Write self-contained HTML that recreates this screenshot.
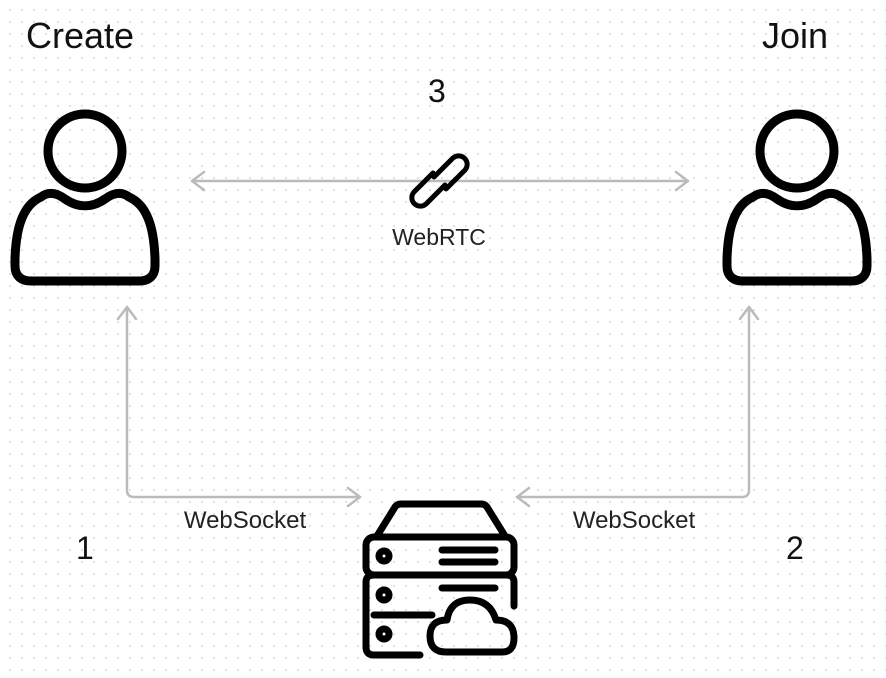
<!DOCTYPE html>
<html><head><style>
html,body{margin:0;padding:0;background:#fff;}
body{width:886px;height:673px;overflow:hidden;
background-image:radial-gradient(circle,#d8d8d8 0.8px,transparent 1.1px);background-size:12px 12px;background-position:4px 4px;}
text{font-family:"Liberation Sans",sans-serif;}
</style></head><body>
<svg width="886" height="673" viewBox="0 0 886 673" xmlns="http://www.w3.org/2000/svg">
<defs>
<g id="person" fill="none" stroke="#000" stroke-width="9" stroke-linejoin="round">
<circle cx="0" cy="0" r="37"/>
<path d="M-44 46 C-36 40 -28 42 -20 48 C-7 57 7 57 20 48 C28 42 36 40 44 46 C62 54 69 76 70 108 L70 115 C70 125 64 130 54 130 L-54 130 C-64 130 -70 125 -70 115 L-70 108 C-69 76 -62 54 -44 46 Z"/>
</g>
</defs>
<use href="#person" x="85" y="151"/>
<use href="#person" x="797" y="151"/>
<text x="26" y="48" font-size="36" fill="#111">Create</text>
<text x="762" y="48" font-size="36" fill="#111">Join</text>
<text x="428" y="102" font-size="32" fill="#111">3</text>
<text x="76" y="559" font-size="32" fill="#111">1</text>
<text x="786" y="559" font-size="32" fill="#111">2</text>
<g stroke="#bbb" stroke-width="2.5" fill="none" stroke-linecap="round" stroke-linejoin="round">
<path d="M192 181 L688 181"/>
<path d="M204 172 L192 181 L204 190"/>
<path d="M676 172 L688 181 L676 190"/>
<path d="M127 307 L127 490 Q127 497 134 497 L360 497"/>
<path d="M118 319 L127 307 L136 319"/>
<path d="M348 488 L360 497 L348 506"/>
<path d="M749 307 L749 490 Q749 497 742 497 L517 497"/>
<path d="M740 319 L749 307 L758 319"/>
<path d="M529 488 L517 497 L529 506"/>
</g>
<g fill="none" stroke="#000" stroke-width="5" stroke-linecap="round">
<path d="M434 177 L453 158 A8.5 8.5 0 0 1 465 170 L446 189"/>
<path d="M445 185 L426 204 A8.5 8.5 0 0 1 414 192 L433 173"/>
</g>
<text x="439" y="245" font-size="23" fill="#222" text-anchor="middle">WebRTC</text>
<text x="245" y="528" font-size="24" fill="#222" text-anchor="middle">WebSocket</text>
<text x="634" y="528" font-size="24" fill="#222" text-anchor="middle">WebSocket</text>
<g fill="none" stroke="#000" stroke-width="7" stroke-linecap="round" stroke-linejoin="round">
<path d="M377 536 L395 507 Q397 504 401 504 L481 504 Q485 504 487 507 L505 536"/>
<rect x="366" y="537" width="148" height="38" rx="8"/>
<path d="M420 655 L374 655 Q366 655 366 647 L366 582 Q366 575 374 575 L506 575 Q514 575 514 582 L514 606"/>
<path d="M374 615 L432 615"/>
<circle cx="384" cy="556" r="5"/>
<circle cx="384" cy="595" r="5"/>
<circle cx="384" cy="634" r="5"/>
<path d="M442 550 L495 550 M442 562 L495 562 M442 588 L495 588"/>
<path d="M446 652 L502 652 Q514 652 514 638 Q514 620 496 620 Q490 600 470 600 Q450 600 447 620 Q430 620 430 636 Q430 652 446 652 Z"/>
</g>
</svg>
</body></html>
